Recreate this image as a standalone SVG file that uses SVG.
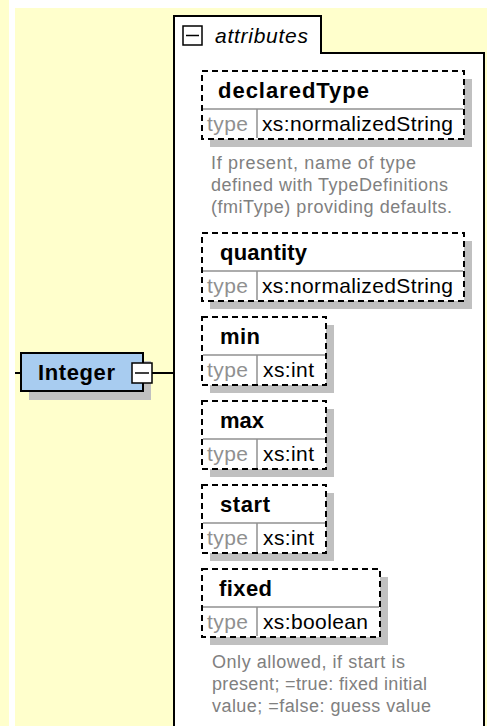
<svg xmlns="http://www.w3.org/2000/svg" width="487" height="726" viewBox="0 0 487 726">
<style>
.bg{fill:#FFFFCC}
.shadow{fill:#C0C0C0}
.dash{fill:#FFFFFF;stroke:#000000;stroke-width:2;stroke-dasharray:6 4}
.sep{stroke:#909090;stroke-width:1.5;fill:none}
.name{font-family:"Liberation Sans",Arial,sans-serif;font-weight:bold;font-size:22px;fill:#000000}
.lbl{font-family:"Liberation Sans",Arial,sans-serif;font-size:21px;fill:#909090}
.val{font-family:"Liberation Sans",Arial,sans-serif;font-size:21px;fill:#000000}
.desc{font-family:"Liberation Sans",Arial,sans-serif;font-size:18px;fill:#808080}
.conn{stroke:#000000;stroke-width:2;fill:none}
</style>
<rect x="0" y="0" width="9" height="726" class="bg"/>
<rect x="15" y="8" width="472" height="718" class="bg"/>

<g id="attributes">
  <path d="M174,727 V16 H321 V53 H484 V727" fill="#FFFFFF" stroke="#000000" stroke-width="2"/>
  <rect x="183" y="26" width="19" height="19" fill="#FFFFFF" stroke="#000000" stroke-width="1.5"/>
  <line x1="186" y1="35.5" x2="199" y2="35.5" stroke="#000000" stroke-width="1.5"/>
  <text x="215" y="43" font-family="'Liberation Sans',Arial,sans-serif" font-style="italic" font-size="21" fill="#000000" textLength="93">attributes</text>
</g>

<g id="connectors">
  <line x1="15" y1="373" x2="22" y2="373" class="conn"/>
  <line x1="152" y1="373" x2="174" y2="373" class="conn"/>
</g>

<g id="Integer">
  <rect x="29" y="361" width="122" height="39" class="shadow"/>
  <rect x="21" y="353" width="122" height="38" fill="#A8CCF0" stroke="#000000" stroke-width="2"/>
  <text x="38" y="380" class="name" textLength="77">Integer</text>
  <rect x="132" y="363" width="20" height="20" fill="#FFFFFF" stroke="#000000" stroke-width="1.5"/>
  <line x1="135" y1="373" x2="149" y2="373" stroke="#000000" stroke-width="1.5"/>
</g>

<g id="declaredType">
  <rect x="210" y="79" width="262" height="68" class="shadow"/>
  <rect x="202" y="71" width="262" height="68" class="dash"/>
  <line x1="203" y1="109" x2="463" y2="109" class="sep"/>
  <line x1="257" y1="109" x2="257" y2="138" class="sep"/>
  <text x="218" y="98" class="name" textLength="151">declaredType</text>
  <text x="207" y="131" class="lbl" textLength="41">type</text>
  <text x="262" y="131" class="val" textLength="191">xs:normalizedString</text>
  <text x="211" y="169" class="desc" textLength="205">If present, name of type</text>
  <text x="211" y="191" class="desc" textLength="237">defined with TypeDefinitions</text>
  <text x="211" y="213" class="desc" textLength="241">(fmiType) providing defaults.</text>
</g>

<g id="quantity">
  <rect x="210" y="241" width="262" height="68" class="shadow"/>
  <rect x="202" y="233" width="262" height="68" class="dash"/>
  <line x1="203" y1="271" x2="463" y2="271" class="sep"/>
  <line x1="257" y1="271" x2="257" y2="300" class="sep"/>
  <text x="220" y="260" class="name" textLength="87">quantity</text>
  <text x="207" y="293" class="lbl" textLength="41">type</text>
  <text x="262" y="293" class="val" textLength="191">xs:normalizedString</text>
</g>

<g id="min">
  <rect x="210" y="325" width="124" height="68" class="shadow"/>
  <rect x="202" y="317" width="124" height="68" class="dash"/>
  <line x1="203" y1="355" x2="325" y2="355" class="sep"/>
  <line x1="257" y1="355" x2="257" y2="384" class="sep"/>
  <text x="220" y="344" class="name" textLength="40">min</text>
  <text x="207" y="377" class="lbl" textLength="41">type</text>
  <text x="263" y="377" class="val" textLength="51">xs:int</text>
</g>

<g id="max">
  <rect x="210" y="409" width="124" height="68" class="shadow"/>
  <rect x="202" y="401" width="124" height="68" class="dash"/>
  <line x1="203" y1="439" x2="325" y2="439" class="sep"/>
  <line x1="257" y1="439" x2="257" y2="468" class="sep"/>
  <text x="220" y="428" class="name" textLength="44">max</text>
  <text x="207" y="461" class="lbl" textLength="41">type</text>
  <text x="263" y="461" class="val" textLength="51">xs:int</text>
</g>

<g id="start">
  <rect x="210" y="493" width="124" height="68" class="shadow"/>
  <rect x="202" y="485" width="124" height="68" class="dash"/>
  <line x1="203" y1="523" x2="325" y2="523" class="sep"/>
  <line x1="257" y1="523" x2="257" y2="552" class="sep"/>
  <text x="220" y="512" class="name" textLength="50">start</text>
  <text x="207" y="545" class="lbl" textLength="41">type</text>
  <text x="263" y="545" class="val" textLength="51">xs:int</text>
</g>

<g id="fixed">
  <rect x="210" y="577" width="178" height="68" class="shadow"/>
  <rect x="202" y="569" width="178" height="68" class="dash"/>
  <line x1="203" y1="607" x2="379" y2="607" class="sep"/>
  <line x1="257" y1="607" x2="257" y2="636" class="sep"/>
  <text x="219" y="596" class="name" textLength="53">fixed</text>
  <text x="207" y="629" class="lbl" textLength="41">type</text>
  <text x="263" y="629" class="val" textLength="105">xs:boolean</text>
  <text x="212" y="668" class="desc" textLength="193">Only allowed, if start is</text>
  <text x="212" y="690" class="desc" textLength="215">present; =true: fixed initial</text>
  <text x="212" y="712" class="desc" textLength="219">value; =false: guess value</text>
</g>
</svg>
